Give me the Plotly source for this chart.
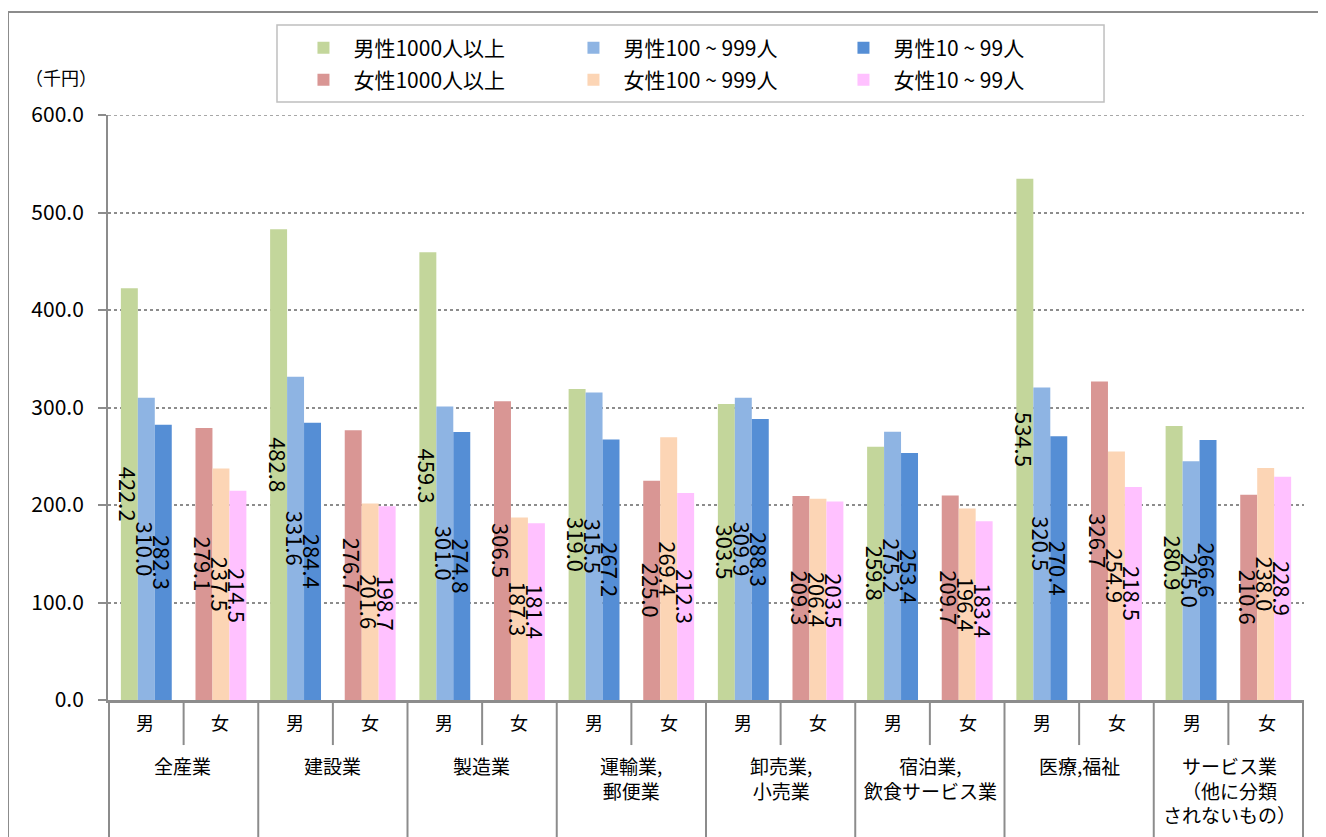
import plotly.graph_objects as go

# 産業分類
industries = ['全産業', '建設業', '製造業', '運輸業,<br>郵便業', '卸売業,<br>小売業',
              '宿泊業,<br>飲食サービス業', '医療,福祉', 'サービス業<br>（他に分類<br>されないもの）']
sexes = ['男', '女']

# 男性（千円）
male_1000 = [422.2, 482.8, 459.3, 319.0, 303.5, 259.8, 534.5, 280.9]
male_100 = [310.0, 331.6, 301.0, 315.5, 309.9, 275.2, 320.5, 245.0]
male_10 = [282.3, 284.4, 274.8, 267.2, 288.3, 253.4, 270.4, 266.6]

# 女性（千円）
female_1000 = [279.1, 276.7, 306.5, 225.0, 209.3, 209.7, 326.7, 210.6]
female_100 = [237.5, 201.6, 187.3, 269.4, 206.4, 196.4, 254.9, 238.0]
female_10 = [214.5, 198.7, 181.4, 212.3, 203.5, 183.4, 218.5, 228.9]

FONT = 'Noto Sans CJK JP'
GRAY = '#8c8c8c'

# 多段カテゴリ（産業, 性別）
x_ind = [ind for ind in industries for _ in sexes]
x_sex = [s for _ in industries for s in sexes]
n_cat = len(x_sex)


def spread(vals, sex):
    # 男なら偶数位置、女なら奇数位置に値を入れる
    out = []
    for v in vals:
        out += [v, None] if sex == '男' else [None, v]
    return out


series = [
    ('男性1000人以上', male_1000, '男', '#C3D69B', 'a'),
    ('男性100 ~ 999人', male_100, '男', '#8EB4E3', 'b'),
    ('男性10 ~ 99人', male_10, '男', '#558ED5', 'c'),
    ('女性1000人以上', female_1000, '女', '#D99694', 'a'),
    ('女性100 ~ 999人', female_100, '女', '#FCD5B5', 'b'),
    ('女性10 ~ 99人', female_10, '女', '#FFC1FF', 'c'),
]

fig = go.Figure()

# 棒（凡例は男性を1行目、女性を2行目に）
for name, vals, sex, color, grp in series:
    fig.add_trace(go.Bar(
        x=[x_ind, x_sex],
        y=spread(vals, sex),
        name=name,
        marker_color=color,
        marker_line_width=0,
        offsetgroup=grp,
        legend='legend' if sex == '男' else 'legend2',
    ))

# ラベル（全ての棒の上に描くため透明な棒で重ねる）
for name, vals, sex, color, grp in series:
    fig.add_trace(go.Bar(
        x=[x_ind, x_sex],
        y=spread(vals, sex),
        marker_color='rgba(0,0,0,0)',
        marker_line_width=0,
        offsetgroup=grp,
        showlegend=False,
        hoverinfo='skip',
        texttemplate='%{y:.1f}',
        textposition='inside',
        insidetextanchor='middle',
        textangle=90,
        constraintext='none',
        insidetextfont=dict(color='black', size=22, family=FONT),
    ))

# 区切り線
shapes = []
for i in range(len(industries) + 1):
    shapes.append(dict(type='line', xref='x', yref='paper', x0=2 * i - 0.5, x1=2 * i - 0.5,
                       y0=0, y1=-0.3, line=dict(color=GRAY, width=2)))
for i in range(len(industries)):
    shapes.append(dict(type='line', xref='x', yref='paper', x0=2 * i + 0.5, x1=2 * i + 0.5,
                       y0=0, y1=-0.077, line=dict(color=GRAY, width=2)))
# 600 の目盛線
shapes.append(dict(type='line', xref='paper', yref='y', x0=0, x1=1, y0=600, y1=600,
                   line=dict(color=GRAY, width=1.5, dash='dot')))
# 外枠
shapes.append(dict(type='line', xref='paper', yref='paper', x0=-0.0836, x1=1.1,
                   y0=1.176, y1=1.176, line=dict(color=GRAY, width=2)))
shapes.append(dict(type='line', xref='paper', yref='paper', x0=-0.0836, x1=-0.0836,
                   y0=1.176, y1=-0.3, line=dict(color=GRAY, width=2)))
# 凡例の枠
shapes.append(dict(type='rect', xref='paper', yref='paper', x0=0.1413, x1=0.8328,
                   y0=1.0222, y1=1.1538, fillcolor='white',
                   line=dict(color='#bfbfbf', width=1.5)))

# 軸ラベル（性別・産業）
annotations = [dict(text='（千円）', xref='paper', yref='paper', x=-0.039, y=1.065,
                    xanchor='center', yanchor='middle', showarrow=False,
                    font=dict(size=18, family=FONT))]
for j, s in enumerate(x_sex):
    annotations.append(dict(text=s, xref='paper', yref='paper', x=(j + 0.5) / n_cat, y=-0.037,
                            xanchor='center', yanchor='middle', showarrow=False,
                            font=dict(size=18, family=FONT)))
for i, ind in enumerate(industries):
    annotations.append(dict(text=ind, xref='paper', yref='paper', x=(2 * i + 1) / n_cat, y=-0.086,
                            xanchor='center', yanchor='top', showarrow=False,
                            font=dict(size=19, family=FONT)))

legend_style = dict(
    orientation='h', xanchor='center', yanchor='middle', x=0.4937,
    entrywidth=205, itemwidth=50, bgcolor='rgba(0,0,0,0)', borderwidth=0,
    font=dict(size=21, family=FONT), traceorder='normal',
)

fig.update_layout(
    barmode='group',
    bargap=0.318,
    bargroupgap=0,
    plot_bgcolor='white',
    paper_bgcolor='white',
    width=1326, height=837,
    margin=dict(l=100, r=30, t=107, b=145),
    font=dict(family=FONT, color='#000000', size=18),
    shapes=shapes,
    annotations=annotations,
    showlegend=True,
    legend=dict(legend_style, y=1.1145),
    legend2=dict(legend_style, y=1.0598),
)

fig.update_yaxes(
    range=[0, 600], tickvals=[0, 100, 200, 300, 400, 500, 600], tickformat='.1f',
    showgrid=True, gridcolor=GRAY, griddash='dot', gridwidth=1.5,
    showline=True, linecolor=GRAY, linewidth=2,
    ticks='outside', ticklen=8, tickcolor=GRAY, tickwidth=2,
    ticklabelstandoff=10, zeroline=False, tickfont=dict(size=21),
)
fig.update_xaxes(
    type='multicategory', showdividers=False, showticklabels=False, showline=True,
    linecolor=GRAY, linewidth=2.5,
)

fig.write_html('out.html')
